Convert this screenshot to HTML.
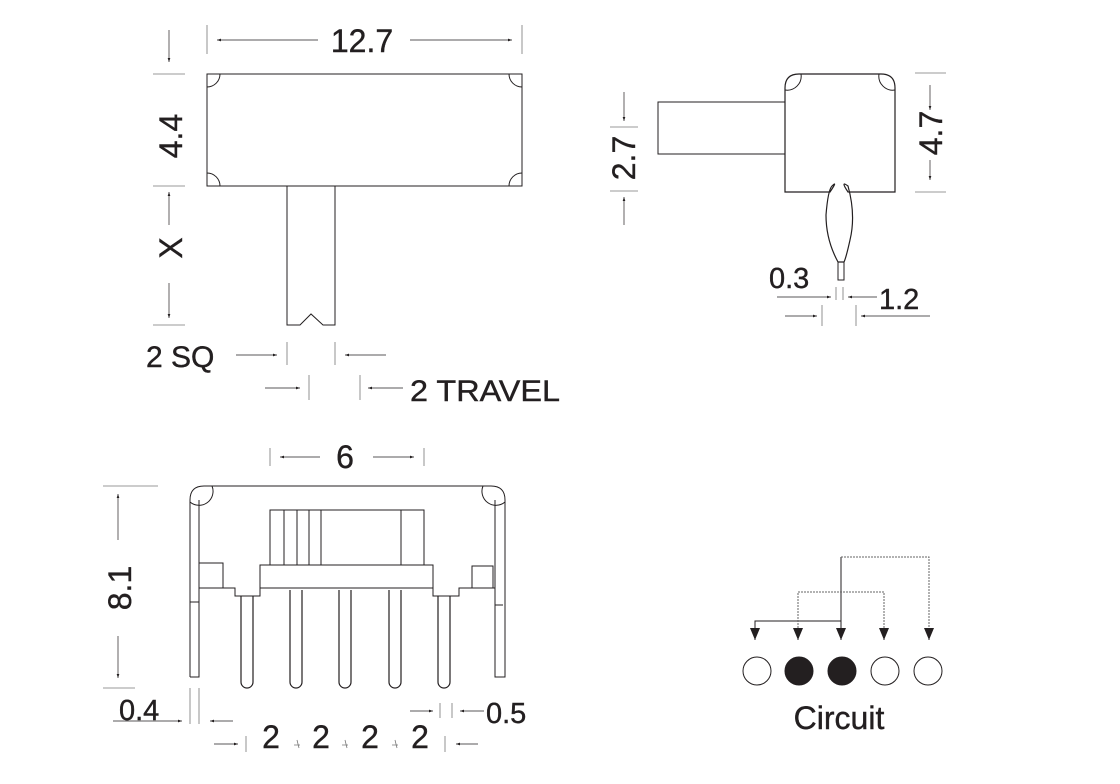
<!DOCTYPE html>
<html><head><style>body{margin:0;background:#fff}svg{display:block}text{font-family:"Liberation Sans",sans-serif;fill:#231f20;stroke:#231f20;stroke-width:0.4}</style></head><body>
<svg width="1120" height="784" viewBox="0 0 1120 784" xmlns="http://www.w3.org/2000/svg">
<defs><marker id="a" markerWidth="6" markerHeight="4" refX="6" refY="2" orient="auto"><path d="M0,0L6,2L0,4z" fill="#231f20"/></marker>
<marker id="b" markerWidth="10" markerHeight="12" refX="5" refY="12" orient="0" markerUnits="userSpaceOnUse"><path d="M0,0L10,0L5,12z" fill="#231f20"/></marker></defs>
<g fill="none" stroke="#231f20" stroke-width="1">
<rect x="207" y="74" width="315" height="112"/>
<path d="M207,87 A13,13 0 0 0 220,74 M509,74 A13,13 0 0 0 522,87 M207,173 A13,13 0 0 1 220,186 M509,186 A13,13 0 0 1 522,173"/>
<path d="M287,186V325H300L311,314L323,325H335V186"/>
<g stroke="#777" stroke-width="0.8">
<path d="M207,25V54M522,25V54M153,74H185M153,186H185M153,325H185"/>
<path d="M287,342V365M335,342V365M309,375V400M360,375V400"/>
</g>
<g stroke-width="0.7">
<path d="M318,40H217" marker-end="url(#a)"/><path d="M410,40H512" marker-end="url(#a)"/>
<path d="M169,30V62" marker-end="url(#a)"/><path d="M169,225V192" marker-end="url(#a)"/><path d="M169,283V318" marker-end="url(#a)"/>
<path d="M236,355H277" marker-end="url(#a)"/><path d="M386,355H345" marker-end="url(#a)"/>
<path d="M265,388H300" marker-end="url(#a)"/><path d="M403,388H368" marker-end="url(#a)"/>
</g>
<path d="M658,102H785V154H658Z"/>
<path d="M785,192V88Q785,74 799,74H881Q895,74 895,88V192H848Q840,180 848,186Q856,215 850,240Q846,258 844,262H838Q826,240 826,215Q828,190 832,186Q838,180 830,192Z" stroke-width="1.2"/>
<path d="M785,90A14,14 0 0 0 801,74M879,74A14,14 0 0 0 895,90"/>
<rect x="838" y="262" width="6" height="18"/>
<g stroke="#777" stroke-width="0.8"><path d="M915,73H946M915,192H946M610,127H638M610,191H638M836,287V300M843,287V300M822,305V326M856,305V326"/></g>
<g stroke-width="0.7">
<path d="M930,85V110" marker-end="url(#a)"/><path d="M930,160V180" marker-end="url(#a)"/>
<path d="M624,92V121" marker-end="url(#a)"/><path d="M624,225V197" marker-end="url(#a)"/>
<path d="M777,297H831" marker-end="url(#a)"/><path d="M877,297H848" marker-end="url(#a)"/>
<path d="M785,316H817" marker-end="url(#a)"/><path d="M930,316H861" marker-end="url(#a)"/>
</g>
<path d="M190,677V500Q190,486 204,486H491Q505,486 505,500V677H495V598"/>
<path d="M190,677H199V500"/>
<path d="M190,502A14,14 0 0 0 212,486M483,486A14,14 0 0 0 505,502"/>
<path d="M199,500V677M495,500V598"/>
<rect x="270" y="510" width="154" height="55"/>
<path d="M284,510V565M297,510V565M309,510V565M321,510V565M401,510V565"/>
<rect x="260" y="565" width="173" height="23"/>
<rect x="199" y="563" width="24" height="25"/><rect x="472" y="566" width="21" height="22"/>
<path d="M199,588H235V596H260V588M433,588V596H459V588H495"/>
<path d="M241,596V682A6,6 0 0 0 253,682V596M290,590V682A6,6 0 0 0 302,682V590M339,590V682A6,6 0 0 0 351,682V590M389,590V682A6,6 0 0 0 401,682V590M438,596V682A6,6 0 0 0 450,682V596" stroke-width="1.2"/>
<path d="M190,602H199M495,605H503"/>
<g stroke="#777" stroke-width="0.8"><path d="M270,448V466M424,448V466M103,486H158M103,688H135M190,688V724M199,688V724M440,703V718M452,703V718M246,736V752M445,736V752M297,740l2,8M345,740l2,8M395,740l2,8M294,745h6M342,745h6M392,745h6"/></g>
<g stroke-width="0.7">
<path d="M320,457H280" marker-end="url(#a)"/><path d="M373,457H414" marker-end="url(#a)"/>
<path d="M118,540V494" marker-end="url(#a)"/><path d="M118,636V678" marker-end="url(#a)"/>
<path d="M113,721H182" marker-end="url(#a)"/><path d="M233,721H210" marker-end="url(#a)"/>
<path d="M410,711H433" marker-end="url(#a)"/><path d="M484,711H460" marker-end="url(#a)"/>
<path d="M214,744H238" marker-end="url(#a)"/><path d="M478,744H456" marker-end="url(#a)"/>
</g>
<path d="M755,638V621H841V638M841,621V557" stroke-width="1"/>
<path d="M755,621V640" marker-end="url(#b)"/><path d="M841,621V640" marker-end="url(#b)"/>
<path d="M798,640V592H884V640M841,557H929V640" stroke="#666" stroke-dasharray="2,1"/>
<path d="M798,628V640" marker-end="url(#b)"/><path d="M884,628V640" marker-end="url(#b)"/><path d="M929,628V640" marker-end="url(#b)"/>
<circle cx="757" cy="671" r="14"/><circle cx="799" cy="671" r="14" fill="#231f20"/><circle cx="842" cy="671" r="14" fill="#231f20"/><circle cx="885" cy="671" r="14"/><circle cx="928" cy="671" r="14"/>
</g>
<g font-size="32">
<text x="362" y="52" text-anchor="middle">12.7</text>
<text transform="translate(182,136) rotate(-90)" text-anchor="middle">4.4</text>
<text transform="translate(182,248) rotate(-90)" text-anchor="middle">X</text>
<text x="146" y="367" font-size="30">2 SQ</text>
<text x="410" y="401" font-size="30" textLength="150" lengthAdjust="spacingAndGlyphs">2 TRAVEL</text>
<text transform="translate(942,133) rotate(-90)" text-anchor="middle">4.7</text>
<text transform="translate(635,158) rotate(-90)" text-anchor="middle">2.7</text>
<text x="769" y="288" font-size="29">0.3</text>
<text x="879" y="309" font-size="29">1.2</text>
<text x="345" y="468" text-anchor="middle">6</text>
<text transform="translate(131,588) rotate(-90)" text-anchor="middle">8.1</text>
<text x="119" y="720" font-size="29">0.4</text>
<text x="486" y="723" font-size="29">0.5</text>
<text x="271" y="748" text-anchor="middle">2</text><text x="321" y="748" text-anchor="middle">2</text><text x="370" y="748" text-anchor="middle">2</text><text x="420" y="748" text-anchor="middle">2</text>
<text x="839" y="729" text-anchor="middle">Circuit</text>
</g>
</svg>
</body></html>
